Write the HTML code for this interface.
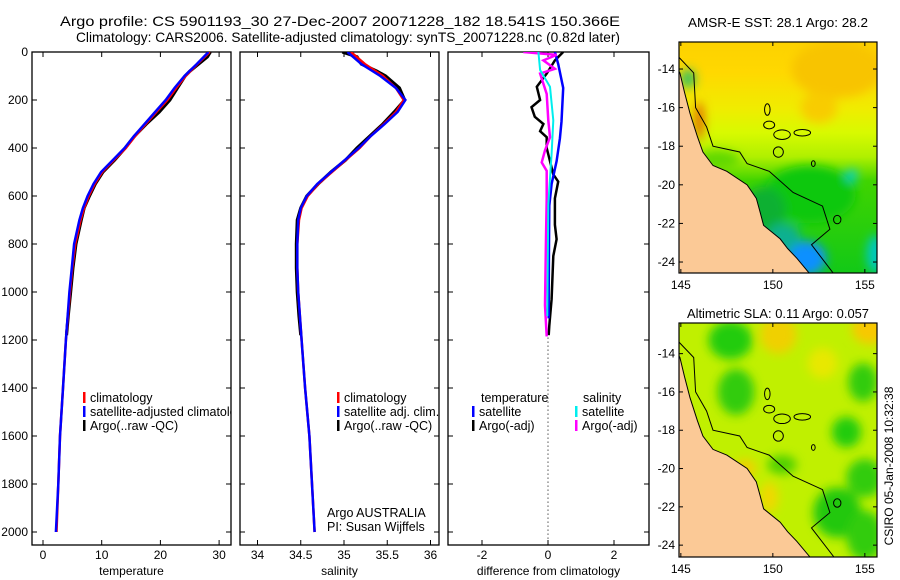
<!DOCTYPE html>
<html><head><meta charset="utf-8"><style>
html,body{margin:0;padding:0;background:#fff;}
svg{display:block;font-family:"Liberation Sans",sans-serif;}
</style></head><body>
<svg id="fig" width="900" height="580" viewBox="0 0 900 580" xmlns="http://www.w3.org/2000/svg">
<defs>
<filter id="blur" x="-50%" y="-50%" width="200%" height="200%"><feGaussianBlur stdDeviation="5"/></filter>
<clipPath id="clipM1"><rect x="679" y="42" width="198" height="231"/></clipPath>
<clipPath id="clipM2"><rect x="679" y="323" width="198" height="234"/></clipPath>
<clipPath id="clipP1"><rect x="32" y="52" width="199" height="493"/></clipPath>
<clipPath id="clipP2"><rect x="240" y="52" width="199" height="493"/></clipPath>
<clipPath id="clipP3"><rect x="448" y="52" width="201" height="493"/></clipPath>
</defs>
<text x="60" y="26" font-size="14" textLength="560" lengthAdjust="spacingAndGlyphs">Argo profile: CS 5901193_30 27-Dec-2007 20071228_182 18.541S 150.366E</text>
<text x="76" y="42" font-size="14" textLength="544" lengthAdjust="spacingAndGlyphs">Climatology: CARS2006. Satellite-adjusted climatology: synTS_20071228.nc (0.82d later)</text>
<g id="panels"></g>
<g id="maps"></g>
<text x="688" y="27" font-size="12.5" textLength="180" lengthAdjust="spacingAndGlyphs">AMSR-E SST: 28.1  Argo: 28.2</text>
<text x="687" y="318" font-size="12.5" textLength="182" lengthAdjust="spacingAndGlyphs">Altimetric SLA: 0.11  Argo: 0.057</text>
<text x="0" y="0" font-size="12" text-anchor="middle" transform="translate(893,466) rotate(-90)">CSIRO 05-Jan-2008 10:32:38</text>
</svg>
<script>
// ---------- data ----------
const depths = [0,50,100,150,200,250,300,350,400,450,500,550,600,650,700,800,900,1000,1200,1400,1600,1800,2000];
const tempClim = [28.4,26.3,24.3,22.7,21.2,19.3,17.5,15.7,14.1,12.1,10.1,8.8,7.8,7.0,6.4,5.5,5.0,4.6,3.9,3.4,2.9,2.6,2.3];
const tempSat  = [28.2,26.2,24.1,22.4,20.9,19.1,17.3,15.5,13.9,11.9,9.9,8.6,7.6,6.8,6.2,5.3,4.9,4.5,3.9,3.4,2.9,2.6,2.2];
const argoDepths = [0,20,50,80,100,150,200,250,300,350,400,450,500,550,600,650,700,800,900,1000,1100,1180];
const tempArgo = [28.5,28.0,26.5,25.0,24.2,22.9,21.6,19.8,17.6,15.6,14.0,12.2,10.2,8.9,7.9,7.0,6.5,5.6,5.1,4.7,4.3,4.0];
const salClim = [35.08,35.24,35.45,35.6,35.69,35.6,35.46,35.31,35.18,35.02,34.86,34.7,34.58,34.51,34.48,34.46,34.46,34.47,34.51,34.55,34.6,34.63,34.66];
const salSat  = [35.04,35.2,35.42,35.6,35.71,35.62,35.47,35.31,35.17,35.01,34.85,34.69,34.57,34.5,34.47,34.46,34.46,34.47,34.51,34.55,34.6,34.63,34.66];
const salArgo = [34.98,35.15,35.2,35.38,35.48,35.64,35.7,35.58,35.45,35.3,35.15,35.02,34.85,34.7,34.57,34.5,34.46,34.45,34.45,34.46,34.48,34.5];
const dTsatDepths = [0,50,150,290,360,455,550,640,800,1000,1110];
const dTsat = [0.21,0.31,0.46,0.41,0.36,0.26,0.11,0.04,0.03,0.02,0.02];
const dTargoDepths = [0,35,90,145,200,230,270,300,330,355,400,510,540,610,720,780,850,1030,1140,1180];
const dTargo = [0.46,0.21,-0.04,-0.34,-0.24,-0.5,-0.4,-0.14,-0.24,-0.04,-0.04,0.16,0.31,0.21,0.21,0.26,0.16,0.11,0.04,0.02];
const dSsatDepths = [0,75,145,285,425,635,900,1100];
const dSsat = [-0.29,-0.24,0.06,0.16,0.11,0.01,-0.01,-0.02];
const dSargoDepths = [0,12,35,70,90,175,285,355,410,460,495,610,775,1055,1185];
const dSargo = [-0.75,0.26,-0.14,0.21,-0.24,-0.04,0.01,0.06,-0.09,-0.19,-0.04,-0.04,-0.06,-0.09,-0.04];
const depthTicks = [0,200,400,600,800,1000,1200,1400,1600,1800,2000];
const tempTicks = [0,10,20,30];
const salTicks = [34,34.5,35,35.5,36];
const salTickLabels = ["34","34.5","35","35.5","36"];
const diffTicks = [-2,0,2];
const lonTicks = [145,150,155];
const latTicks = [-14,-16,-18,-20,-22,-24];

// ---------- helpers ----------
const NS = "http://www.w3.org/2000/svg";
function mk(tag, attrs, parent){const e=document.createElementNS(NS,tag);for(const k in attrs)e.setAttribute(k,attrs[k]);parent.appendChild(e);return e;}
const yD = d => 52 + 0.24*d;
const xT = v => 43 + 5.87*v;
const xS = v => 257.5 + 86.5*(v-34);
const xDf = v => 548 + 33*v;
function pathFrom(xs, ds, fx){return xs.map((v,i)=>(i?"L":"M")+fx(v).toFixed(1)+","+yD(ds[i]).toFixed(1)).join(" ");}

const P = document.getElementById("panels");
function panel(name, x0, x1, xt, xtl, fx, xlabel, showY){
  const g = mk("g",{},P);
  
  
  const r = mk("rect",{x:x0,y:52,width:x1-x0,height:493,fill:"none",stroke:"#000","stroke-width":1.3},g);
  
  
  depthTicks.forEach(d=>{
    mk("line",{x1:x0,x2:x0+5,y1:yD(d),y2:yD(d),stroke:"#000"},g);
    mk("line",{x1:x1-5,x2:x1,y1:yD(d),y2:yD(d),stroke:"#000"},g);
    if(showY){const t=mk("text",{x:x0-4,y:yD(d)+4,"font-size":12,"text-anchor":"end"},g);t.textContent=d;
      
      }
  });
  xt.forEach((v,i)=>{
    const X=fx(v);
    mk("line",{x1:X,x2:X,y1:52,y2:57,stroke:"#000"},g);
    mk("line",{x1:X,x2:X,y1:540,y2:545,stroke:"#000"},g);
    const t=mk("text",{x:X,y:559,"font-size":12,"text-anchor":"middle"},g);t.textContent=xtl[i];
    
    
  });
  const xl=mk("text",{x:(x0+x1)/2,y:575,"font-size":12,"text-anchor":"middle"},g);xl.textContent=xlabel;
  
  
  return g;
}
function series(g, clip, xs, ds, fx, color, w, name){
  const p=mk("path",{d:pathFrom(xs,ds,fx),fill:"none",stroke:color,"stroke-width":w,"clip-path":"url(#"+clip+")","stroke-linejoin":"miter"},g);
  
  
}
function legend(g, x, y, color, label, name){
  mk("rect",{x:x,y:y-10,width:2.5,height:11,fill:color},g);
  const t=mk("text",{x:x+7,y:y,"font-size":12.5},g);t.textContent=label;
  
  
}

// panel 1
const g1 = panel("temperature-panel",32,231,tempTicks,tempTicks.map(String),xT,"temperature",true);
series(g1,"clipP1",tempArgo,argoDepths,xT,"#000",3.2,"temp-argo-line");
series(g1,"clipP1",tempClim,depths,xT,"#f00",2.5,"temp-climatology-line");
series(g1,"clipP1",tempSat,depths,xT,"#00f",2.5,"temp-satellite-line");
const lg1=mk("g",{"clip-path":"url(#clipP1)"},g1);
legend(lg1,83,402,"#f00","climatology","legend-climatology");
legend(lg1,83,416,"#00f","satellite-adjusted climatology","legend-satellite");
legend(lg1,83,430,"#000","Argo(..raw -QC)","legend-argo");

// panel 2
const g2 = panel("salinity-panel",240,439,salTicks,salTickLabels,xS,"salinity",false);
series(g2,"clipP2",salArgo,argoDepths,xS,"#000",3.2,"sal-argo-line");
series(g2,"clipP2",salClim,depths,xS,"#f00",2.5,"sal-climatology-line");
series(g2,"clipP2",salSat,depths,xS,"#00f",2.5,"sal-satellite-line");
legend(g2,337,402,"#f00","climatology","legend-climatology");
legend(g2,337,416,"#00f","satellite adj. clim.","legend-satellite");
legend(g2,337,430,"#000","Argo(..raw -QC)","legend-argo");
const a1=mk("text",{x:327,y:517,"font-size":12.5},g2);a1.textContent="Argo AUSTRALIA";


const a2=mk("text",{x:327,y:531,"font-size":12.5},g2);a2.textContent="PI: Susan Wijffels";



// panel 3
const g3 = panel("difference-panel",448,649,diffTicks,diffTicks.map(String),xDf,"difference from climatology",false);
const zl=mk("line",{x1:548,x2:548,y1:yD(1190),y2:545,stroke:"#000","stroke-dasharray":"1,3"},g3);


series(g3,"clipP3",dTargo,dTargoDepths,xDf,"#000",2.5,"diff-temp-argo-line");
series(g3,"clipP3",dTsat,dTsatDepths,xDf,"#00f",2.5,"diff-temp-satellite-line");
series(g3,"clipP3",dSargo,dSargoDepths,xDf,"#f0f",2.5,"diff-sal-argo-line");
series(g3,"clipP3",dSsat,dSsatDepths,xDf,"#0ee",2,"diff-sal-satellite-line");
const lt1=mk("text",{x:481,y:402,"font-size":12.5},g3);lt1.textContent="temperature";


const lt2=mk("text",{x:583,y:402,"font-size":12.5},g3);lt2.textContent="salinity";


legend(g3,472,416,"#00f","satellite","legend-temp-satellite");
legend(g3,472,430,"#000","Argo(-adj)","legend-temp-argo");
legend(g3,575,416,"#0ee","satellite","legend-sal-satellite");
legend(g3,575,430,"#f0f","Argo(-adj)","legend-sal-argo");

// ---------- maps ----------
const M = document.getElementById("maps");
const coast = [[144.5,-13.5],[144.95,-14.2],[145.2,-15.2],[145.5,-16.3],[145.9,-17.5],[146.2,-18.3],[146.75,-19.0],[147.5,-19.3],[148.6,-20.0],[149.1,-20.7],[149.3,-21.4],[149.5,-22.1],[150.4,-22.8],[150.8,-23.3],[151.3,-23.8],[152.0,-24.6],[152.2,-25],[144.5,-25]];
const reef = [[144.9,-13.4],[145.7,-14.2],[145.8,-16.0],[146.4,-17.0],[146.75,-18.0],[148.2,-18.3],[148.6,-18.9],[149.8,-19.3],[151.1,-20.4],[152.7,-21.1],[153.1,-22.3],[152.1,-23.1],[153.3,-24.6],[153.5,-25]];
const islands = [[149.7,-16.1,0.15,0.3],[149.8,-16.9,0.3,0.2],[150.5,-17.4,0.45,0.25],[151.6,-17.3,0.45,0.17],[150.3,-18.3,0.27,0.27],[152.2,-18.9,0.1,0.15],[153.5,-21.8,0.2,0.22]];
const sstBlobs = [[153.5,-14,2.5,1.5,"#f8c400"],[152.5,-16,1,0.8,"#f8cc00"],[146.0,-16.7,0.25,1.0,"#e06000"],[152,-20.5,2.5,1.5,"#10c810"],[149.5,-21.3,1.2,1.2,"#10b030"],[151.8,-23.8,1.1,0.9,"#1090ff"],[150.6,-22.7,0.9,0.7,"#10b090"],[155.6,-23.6,0.5,1,"#00c8c0"],[154.3,-19.5,0.3,0.3,"#00d0e0"],[145.4,-14.5,0.4,0.5,"#30c060"],[147,-18.7,1.2,0.5,"#60d800"]];
const slaBlobs = [[147.7,-13.3,1.2,1,"#20cc10"],[148,-16,1,1.2,"#30cc10"],[150.3,-13,1,1,"#f0d000"],[155.3,-12.7,1,0.8,"#f8c800"],[154.9,-15.5,0.8,1,"#30cc10"],[154,-18.1,0.8,0.8,"#20cc10"],[155,-20.5,1,1,"#30cc10"],[153.5,-22.3,1.3,1.3,"#20c810"],[155,-23.5,1,1.3,"#30cc10"],[148.5,-20,0.6,0.5,"#f0d000"],[149.8,-21.5,0.5,0.8,"#f0d800"],[150.5,-19.8,0.8,0.5,"#50d000"],[152.7,-14.5,0.8,0.8,"#e8e800"]];

function map(name, clip, fy, bg, gradStops, blobs){
  const fx = lon => 679 + (lon-144.9)*18.4;
  const g = mk("g",{},M);
  
  
  const inner = mk("g",{"clip-path":"url(#"+clip+")"},g);
  const top = fy(-12.3), bot = fy(-24.8);
  if(gradStops){
    const gid=name+"-grad";
    const lg=mk("linearGradient",{id:gid,x1:0,y1:0,x2:0,y2:1},document.querySelector("defs"));
    gradStops.forEach(s=>mk("stop",{offset:s[0],"stop-color":s[1]},lg));
    mk("rect",{x:679,y:top,width:198,height:bot-top,fill:"url(#"+gid+")"},inner);
  } else mk("rect",{x:679,y:top,width:198,height:bot-top,fill:bg},inner);
  const bl=mk("g",{filter:"url(#blur)"},inner);
  blobs.forEach(b=>{mk("ellipse",{cx:fx(b[0]),cy:fy(b[1]),rx:b[2]*18.4,ry:b[3]*19.2,fill:b[4]},bl);});
  const land=mk("path",{d:coast.map((p,i)=>(i?"L":"M")+fx(p[0]).toFixed(1)+","+fy(p[1]).toFixed(1)).join(" ")+"Z",fill:"#fbc996",stroke:"#000","stroke-width":1},inner);
  
  
  const rf=mk("path",{d:reef.map((p,i)=>(i?"L":"M")+fx(p[0]).toFixed(1)+","+fy(p[1]).toFixed(1)).join(" "),fill:"none",stroke:"#000","stroke-width":1},inner);
  
  
  islands.forEach(s=>{mk("ellipse",{cx:fx(s[0]),cy:fy(s[1]),rx:s[2]*18.4,ry:s[3]*19.2,fill:"none",stroke:"#000","stroke-width":1},inner);});
  const y0 = clip==="clipM1"?42:323, h = clip==="clipM1"?231:234;
  const box=mk("rect",{x:679,y:y0,width:198,height:h,fill:"none",stroke:"#000","stroke-width":1.2},g);
  
  
  lonTicks.forEach(l=>{const X=fx(l);
    mk("line",{x1:X,x2:X,y1:y0,y2:y0+4,stroke:"#000"},g);
    mk("line",{x1:X,x2:X,y1:y0+h-4,y2:y0+h,stroke:"#000"},g);
    const t=mk("text",{x:X,y:y0+h+16,"font-size":12,"text-anchor":"middle"},g);t.textContent=l;
    
    
  });
  latTicks.forEach(l=>{const Y=fy(l);
    mk("line",{x1:679,x2:683,y1:Y,y2:Y,stroke:"#000"},g);
    mk("line",{x1:873,x2:877,y1:Y,y2:Y,stroke:"#000"},g);
    const t=mk("text",{x:675,y:Y+4,"font-size":12,"text-anchor":"end"},g);t.textContent=l;
    
    
  });
}
map("sst-map","clipM1",lat=>42+(-12.6-lat)*19.3,null,[[0,"#fcd000"],[0.15,"#ffd800"],[0.3,"#f0ec00"],[0.4,"#d8fa00"],[0.5,"#b0f000"],[0.6,"#40d400"],[1,"#10c818"]],sstBlobs);
map("sla-map","clipM2",lat=>323+(-12.4-lat)*19.15,"#c0f000",null,slaBlobs);
</script>
</body></html>
